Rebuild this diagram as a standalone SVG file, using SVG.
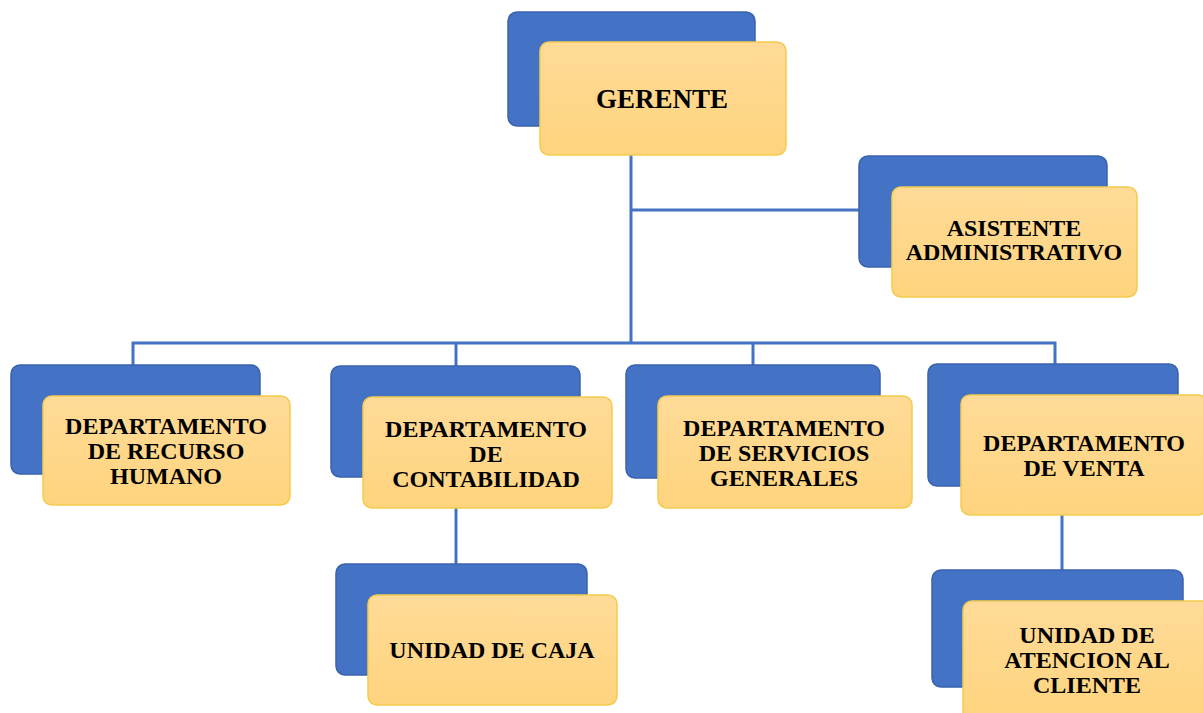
<svg xmlns="http://www.w3.org/2000/svg" width="1203" height="713" viewBox="0 0 1203 713">
<defs>
<linearGradient id="yg" x1="0" y1="0" x2="0" y2="1">
<stop offset="0" stop-color="#FFDB98"/>
<stop offset="1" stop-color="#FFD47E"/>
</linearGradient>
<style>
.b{fill:#4472C4;stroke:#3A63AE;stroke-width:1.5}
.y{fill:url(#yg);stroke:#F4CB4F;stroke-width:1.5}
.t{font-family:"Liberation Serif","Times New Roman",serif;font-weight:bold;font-size:24px;fill:#000;text-anchor:middle}
.c{stroke:#4472C4;stroke-width:3;fill:none}
</style>
</defs>
<rect width="1203" height="713" fill="#fff"/>
<g id="connectors">
<path class="c" d="M631 155V343"/>
<path class="c" d="M631 210H860"/>
<path class="c" d="M133 365V343H1055V365"/>
<path class="c" d="M456 343V366"/>
<path class="c" d="M753 343V365"/>
<path class="c" d="M456 508V564"/>
<path class="c" d="M1062 515V570"/>
</g>
<g id="gerente">
<rect class="b" x="508" y="12" width="247" height="114" rx="9"/>
<rect class="y" x="540" y="42" width="246" height="113" rx="9"/>
<text class="t" x="662" y="108" style="font-size:27px">GERENTE</text>
</g>
<g id="asistente">
<rect class="b" x="859" y="156" width="248" height="111" rx="9"/>
<rect class="y" x="892" y="187" width="245" height="110" rx="9"/>
<text class="t" x="1014" y="236">ASISTENTE</text>
<text class="t" x="1014" y="260">ADMINISTRATIVO</text>
</g>
<g id="rrhh">
<rect class="b" x="11" y="365" width="249" height="109" rx="9"/>
<rect class="y" x="43" y="396" width="247" height="109" rx="9"/>
<text class="t" x="166" y="434">DEPARTAMENTO</text>
<text class="t" x="166" y="459">DE RECURSO</text>
<text class="t" x="166" y="484">HUMANO</text>
</g>
<g id="contabilidad">
<rect class="b" x="331" y="366" width="249" height="111" rx="9"/>
<rect class="y" x="363" y="397" width="249" height="111" rx="9"/>
<text class="t" x="486" y="437">DEPARTAMENTO</text>
<text class="t" x="486" y="462">DE</text>
<text class="t" x="486" y="487">CONTABILIDAD</text>
</g>
<g id="servicios">
<rect class="b" x="626" y="365" width="254" height="113" rx="9"/>
<rect class="y" x="658" y="396" width="254" height="112" rx="9"/>
<text class="t" x="784" y="436">DEPARTAMENTO</text>
<text class="t" x="784" y="461">DE SERVICIOS</text>
<text class="t" x="784" y="486">GENERALES</text>
</g>
<g id="venta">
<rect class="b" x="928" y="364" width="250" height="122" rx="9"/>
<rect class="y" x="961" y="395" width="246" height="120" rx="9"/>
<text class="t" x="1084" y="451">DEPARTAMENTO</text>
<text class="t" x="1084" y="476">DE VENTA</text>
</g>
<g id="caja">
<rect class="b" x="336" y="564" width="251" height="111" rx="9"/>
<rect class="y" x="368" y="595" width="249" height="110" rx="9"/>
<text class="t" x="492" y="658">UNIDAD DE CAJA</text>
</g>
<g id="atencion">
<rect class="b" x="932" y="570" width="251" height="117" rx="9"/>
<rect class="y" x="963" y="601" width="250" height="120" rx="9"/>
<text class="t" x="1087" y="643">UNIDAD DE</text>
<text class="t" x="1087" y="668">ATENCION AL</text>
<text class="t" x="1087" y="693">CLIENTE</text>
</g>
</svg>
